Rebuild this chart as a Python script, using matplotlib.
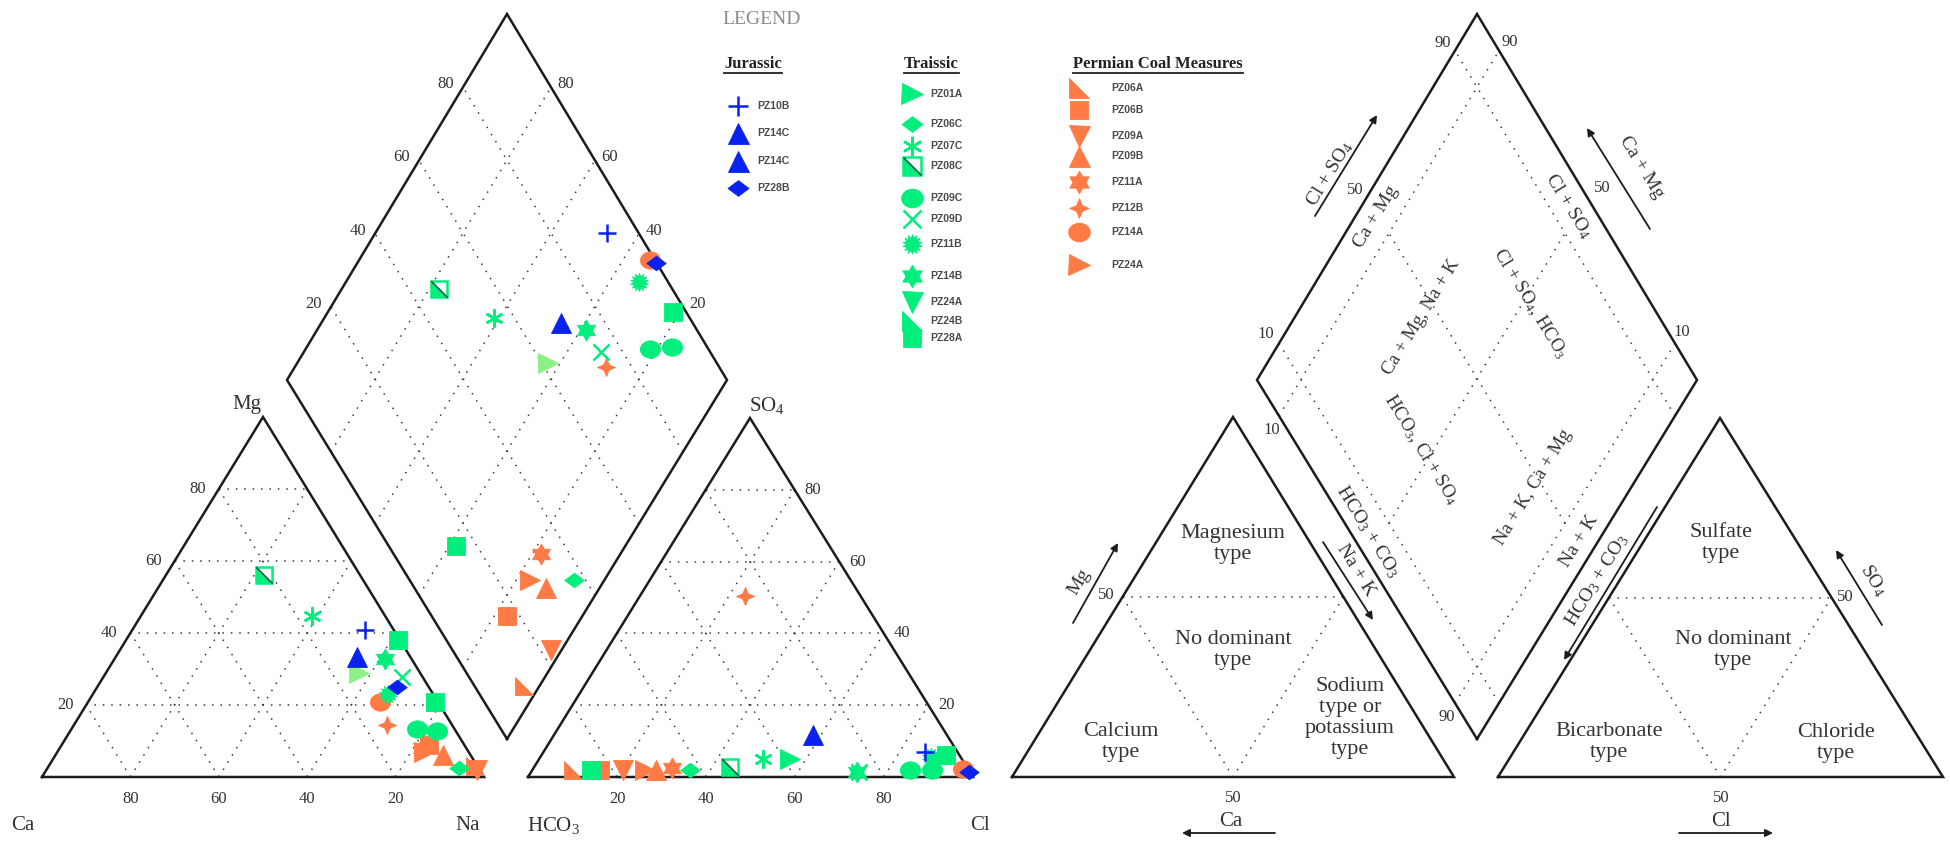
import numpy as np
import matplotlib
matplotlib.use("Agg")
import matplotlib.pyplot as plt
from matplotlib.path import Path
from matplotlib.transforms import Affine2D

SERIF = "Liberation Serif"
SANS = "Liberation Sans"
plt.rcParams["mathtext.fontset"] = "custom"
plt.rcParams["mathtext.rm"] = SERIF
plt.rcParams["mathtext.it"] = SERIF + ":italic"
plt.rcParams["mathtext.bf"] = SERIF + ":bold"

# ------------------------------------------------------------------ samples
# ionic composition in % of meq/L
sample_ids = ["PZ06A", "PZ06B", "PZ09A", "PZ09B", "PZ11A", "PZ12B", "PZ14A", "PZ24A",
              "PZ01A", "PZ06C", "PZ07C", "PZ08C", "PZ09C", "PZ09C-b", "PZ09D", "PZ11B",
              "PZ14B", "PZ28A", "PZ28A-b",
              "PZ10B", "PZ14C", "PZ28B"]
sample_unit = (["Permian Coal Measures"] * 8 + ["Traissic"] * 11 + ["Jurassic"] * 3)
sample_symbol = ["rtri", "square", "tri_down", "tri_up", "hexagram", "fourstar", "circle", "tri_right",
                 "tri_right", "diamond", "asterisk", "halfsq", "circle", "circle", "cross", "burst",
                 "hexagram", "square", "square",
                 "plus", "tri_up", "diamond"]
# cations
mg_pct = [3.0, 9.0, 2.0, 6.0, 8.0, 14.4, 20.7, 7.0,
          29.0, 2.6, 44.7, 56.1, 13.2, 12.8, 27.7, 23.0,
          32.7, 38.0, 20.7,
          40.8, 33.2, 24.9]
na_k_pct = [96.5, 83.0, 97.5, 87.8, 82.0, 70.8, 66.2, 83.0,
            57.2, 93.0, 38.8, 22.2, 78.3, 83.0, 67.7, 66.7,
            61.3, 61.5, 78.5,
            52.6, 54.7, 67.8]
# anions
so4_pct = [2.0, 2.0, 2.0, 2.0, 2.5, 50.3, 2.3, 2.0,
           5.1, 1.9, 5.1, 2.8, 1.9, 1.9, 1.5, 5.6,
           1.4, 1.9, 6.1,
           7.0, 11.7, 1.4]
cl_pct = [9.2, 15.2, 20.3, 27.7, 31.0, 23.7, 96.6, 25.3,
          56.3, 35.4, 50.3, 44.0, 84.8, 89.9, 73.6, 87.7,
          73.2, 13.3, 90.8,
          85.7, 58.2, 98.4]

# legend contents
legend_units = ["Jurassic", "Traissic", "Permian Coal Measures"]
legend_items = {
    "Jurassic": [("PZ10B", "plus"), ("PZ14C", "tri_up"), ("PZ14C", "tri_up"), ("PZ28B", "diamond")],
    "Traissic": [("PZ01A", "tri_right"), ("PZ06C", "diamond"), ("PZ07C", "asterisk"),
                 ("PZ08C", "halfsq"), ("PZ09C", "circle"), ("PZ09D", "cross"), ("PZ11B", "burst"),
                 ("PZ14B", "hexagram"), ("PZ24A", "tri_down"), ("PZ24B", "rtri"), ("PZ28A", "square")],
    "Permian Coal Measures": [("PZ06A", "rtri"), ("PZ06B", "square"), ("PZ09A", "tri_down"),
                              ("PZ09B", "tri_up"), ("PZ11A", "hexagram"), ("PZ12B", "fourstar"),
                              ("PZ14A", "circle"), ("PZ24A", "tri_right")],
}

GREEN = "#00ee7c"
PALE_GREEN = "#8cef88"
BLUE = "#0a22f0"
ORANGE = "#ff7a45"
INK = "#1c1c1c"
TXT = "#333333"
DOT = "#3c3c3c"
unit_colour = {"Permian Coal Measures": ORANGE, "Traissic": GREEN, "Jurassic": BLUE}
pale_in_cation_and_diamond = {"PZ01A": PALE_GREEN}

# ------------------------------------------------------------------ canvas
fig = plt.figure(figsize=(19.5, 8.43), dpi=100)
ax = fig.add_axes([0, 0, 1, 1])
ax.set_xlim(0, 1950)
ax.set_ylim(843, 0)
ax.axis("off")

# frame geometry in pixel space
CAT = {"L": (42, 777), "R": (484, 777), "T": (263, 417)}
AN = {"L": (528, 777), "R": (973, 777), "T": (750, 418)}
DIA = {"B": (507, 739), "L": (287, 380), "R": (727, 380), "T": (507, 14)}
SHIFT = 970  # the explanatory copy sits to the right


def shifted(g, dx):
    return {k: (v[0] + dx, v[1]) for k, v in g.items()}


def tri_xy(g, fr, ft):
    (lx, ly), (rx, ry), (tx, ty) = g["L"], g["R"], g["T"]
    return (lx + fr * (rx - lx) + ft * (tx - lx), ly + fr * (ry - ly) + ft * (ty - ly))


def dia_xy(g, u, v):
    # u = (Ca+Mg) fraction, v = (Cl+SO4) fraction
    B, L, R, T = (np.array(g[k], float) for k in ("B", "L", "R", "T"))
    p = (1 - u) * (1 - v) * B + u * (1 - v) * L + (1 - u) * v * R + u * v * T
    return p[0], p[1]


def dotted(p, q):
    ax.plot([p[0], q[0]], [p[1], q[1]], color=DOT, lw=1.1, ls=(0, (1, 4.5)), zorder=1)


def outline(pts):
    xs = [p[0] for p in pts] + [pts[0][0]]
    ys = [p[1] for p in pts] + [pts[0][1]]
    ax.plot(xs, ys, color=INK, lw=1.8, solid_joinstyle="miter", zorder=2)


def draw_triangle(g, grid=True):
    outline([g["L"], g["R"], g["T"]])
    if grid:
        for k in (0.2, 0.4, 0.6, 0.8):
            dotted(tri_xy(g, 0, k), tri_xy(g, 1 - k, k))
            dotted(tri_xy(g, k, 0), tri_xy(g, k, 1 - k))
            dotted(tri_xy(g, 1 - k, 0), tri_xy(g, 0, 1 - k))


def draw_diamond(g, grid=True):
    outline([g["B"], g["L"], g["T"], g["R"]])
    if grid:
        for k in (0.2, 0.4, 0.6, 0.8):
            dotted(dia_xy(g, k, 0), dia_xy(g, k, 1))
            dotted(dia_xy(g, 0, k), dia_xy(g, 1, k))


def label(x, y, s, size=12, rot=0, **kw):
    kw.setdefault("family", SERIF)
    kw.setdefault("color", TXT)
    ax.text(x, y, s, fontsize=size, rotation=rot, rotation_mode="anchor",
            ha=kw.pop("ha", "center"), va=kw.pop("va", "center"), zorder=6, **kw)


def arrow(p, q):
    ax.annotate("", xy=q, xytext=p,
                arrowprops=dict(arrowstyle="-|>", lw=1.3, color=INK, mutation_scale=11,
                                shrinkA=0, shrinkB=0), zorder=6)


# ------------------------------------------------------------------ marker shapes
RTRI = Path([(-1, 1), (-1, -1), (1, -1), (-1, 1)],
            [Path.MOVETO, Path.LINETO, Path.LINETO, Path.CLOSEPOLY])
DIAG = Path([(-1, 1), (1, -1)], [Path.MOVETO, Path.LINETO])
ELLIPSE = Path.unit_circle().transformed(Affine2D().scale(1.0, 0.86))
RHOMB = Path([(0, 0.75), (1, 0), (0, -0.75), (-1, 0), (0, 0.75)],
             [Path.MOVETO, Path.LINETO, Path.LINETO, Path.LINETO, Path.CLOSEPOLY])
SHAPES = {
    "rtri": (RTRI, 13, False),
    "square": ("s", 12.5, False),
    "tri_down": ("v", 14, False),
    "tri_up": ("^", 14, False),
    "tri_right": (">", 14, False),
    "hexagram": (Path.unit_regular_star(6, 0.58), 15, False),
    "fourstar": (Path.unit_regular_star(4, 0.42), 13, False),
    "circle": (ELLIPSE, 14.5, False),
    "diamond": (RHOMB, 14, False),
    "burst": (Path.unit_regular_star(14, 0.62), 13, False),
    "asterisk": ((6, 2, 0), 13, True),
    "cross": ("x", 12, True),
    "plus": ("+", 13, True),
}


def put(x, y, kind, colour, scale=1.0, z=5):
    if kind == "halfsq":
        ms = 12 * scale
        ax.plot(x, y, ls="none", marker="s", ms=ms, mfc="white", mec=colour, mew=1.8, zorder=z)
        ax.plot(x, y, ls="none", marker=RTRI, ms=ms, mfc=colour, mec=colour, mew=0.5, zorder=z)
        ax.plot(x, y, ls="none", marker=DIAG, ms=ms, mfc="none", mec="#1f5f45", mew=1.2, zorder=z)
        return
    mk, ms, is_line = SHAPES[kind]
    if is_line:
        ax.plot(x, y, ls="none", marker=mk, ms=ms * scale, mec=colour, mew=1.8, zorder=z)
    else:
        ax.plot(x, y, ls="none", marker=mk, ms=ms * scale, mfc=colour, mec=colour, mew=0.6, zorder=z)


# ------------------------------------------------------------------ Piper plot (data)
draw_triangle(CAT)
draw_triangle(AN)
draw_diamond(DIA)

for k in (20, 40, 60, 80):
    f = k / 100
    x, y = tri_xy(CAT, 0, f)
    label(x - 21, y, str(k))
    x, y = tri_xy(CAT, 1 - f, 0)
    label(x, 799, str(k))
    x, y = tri_xy(AN, 1 - f, f)
    label(x + 18, y, str(k))
    x, y = tri_xy(AN, f, 0)
    label(x, 799, str(k))
    x, y = dia_xy(DIA, 1, f)
    label(x - 17, y - 3, str(k))
    x, y = dia_xy(DIA, f, 1)
    label(x + 15, y - 3, str(k))

label(23, 825, "Ca", 15)
label(468, 825, "Na", 15)
label(247, 405, "Mg", 15)
label(553, 825, "HCO$_3$", 15)
label(980, 825, "Cl", 15)
label(767, 405, "SO$_4$", 15)

for i, sid in enumerate(sample_ids):
    col = unit_colour[sample_unit[i]]
    col_cd = pale_in_cation_and_diamond.get(sid, col)
    kind = sample_symbol[i]
    mg, na = mg_pct[i] / 100, na_k_pct[i] / 100
    so4, cl = so4_pct[i] / 100, cl_pct[i] / 100
    put(*tri_xy(CAT, na, mg), kind, col_cd)
    put(*tri_xy(AN, cl, so4), kind, col)
    put(*dia_xy(DIA, 1 - na, cl + so4), kind, col_cd)

# ------------------------------------------------------------------ legend
label(762, 19, "LEGEND", 14, color="#8a8a8a")
legend_x = {"Jurassic": (724, 738, 757), "Traissic": (904, 912, 930),
            "Permian Coal Measures": (1073, 1079, 1111)}
legend_rows = {"Jurassic": [106, 133, 161, 188],
               "Traissic": [94, 124, 146, 166, 198, 219, 244, 276, 302, 321, 338],
               "Permian Coal Measures": [88, 110, 136, 156, 182, 208, 232, 265]}
titles = []
for unit in legend_units:
    tx, mx, lx = legend_x[unit]
    t = ax.text(tx, 64, unit, fontsize=12, family=SERIF, weight="bold", color="#222222",
                ha="left", va="center", zorder=6)
    titles.append(t)
    for (name, kind), ry in zip(legend_items[unit], legend_rows[unit]):
        put(mx, ry, kind, unit_colour[unit], scale=1.08)
        ax.text(lx, ry, name, fontsize=7.5, family=SANS, weight="bold", color="#4a4a4a",
                ha="left", va="center", zorder=6)

fig.canvas.draw()
renderer = fig.canvas.get_renderer()
for t in titles:
    bb = t.get_window_extent(renderer)
    y_line = 843 - bb.y0 + 1
    ax.plot([bb.x0, bb.x1], [y_line, y_line], color="#222222", lw=1.3, zorder=6)

# ------------------------------------------------------------------ explanatory diagram
CAT2 = shifted(CAT, SHIFT)
AN2 = shifted(AN, SHIFT)
DIA2 = shifted(DIA, SHIFT)
draw_triangle(CAT2, grid=False)
draw_triangle(AN2, grid=False)
draw_diamond(DIA2, grid=False)

for g in (CAT2, AN2):
    dotted(tri_xy(g, 0, 0.5), tri_xy(g, 0.5, 0.5))
    dotted(tri_xy(g, 0, 0.5), tri_xy(g, 0.5, 0))
    dotted(tri_xy(g, 0.5, 0.5), tri_xy(g, 0.5, 0))
for k in (0.1, 0.9):
    dotted(dia_xy(DIA2, k, 0), dia_xy(DIA2, k, 1))
    dotted(dia_xy(DIA2, 0, k), dia_xy(DIA2, 1, k))
dotted(dia_xy(DIA2, 0.5, 0.1), dia_xy(DIA2, 0.5, 0.9))
dotted(dia_xy(DIA2, 0.1, 0.5), dia_xy(DIA2, 0.9, 0.5))

ROT = 58.5
region_texts = [
    ("Magnesium\ntype", 1233, 544), ("No dominant\ntype", 1233, 650),
    ("Calcium\ntype", 1121, 742), ("Sodium\ntype or\npotassium\ntype", 1350, 718),
    ("Sulfate\ntype", 1721, 543), ("No dominant\ntype", 1733, 650),
    ("Bicarbonate\ntype", 1609, 742), ("Chloride\ntype", 1836, 743),
]
for s, x, y in region_texts:
    label(x, y, s, 16, linespacing=1.15, multialignment="center")

# tick values
for s, x, y in [("50", 1106, 595), ("50", 1845, 597), ("50", 1233, 798), ("50", 1721, 798),
                ("90", 1443, 43), ("90", 1510, 42), ("50", 1355, 190), ("50", 1602, 188),
                ("10", 1266, 334), ("10", 1682, 332), ("10", 1272, 430), ("90", 1447, 717)]:
    label(x, y, s, 12)

# axis names with direction arrows
label(1231, 822, "Ca", 15)
arrow((1275, 833), (1182, 833))
label(1721, 822, "Cl", 15)
arrow((1679, 833), (1773, 833))
label(1079, 582, "Mg", 14, rot=ROT)
arrow((1073, 623), (1118, 543))
label(1873, 580, "SO$_4$", 14, rot=-ROT)
arrow((1882, 625), (1836, 550))
label(1330, 174, "Cl + SO$_4$", 14, rot=ROT)
arrow((1315, 216), (1377, 115))
label(1641, 167, "Ca + Mg", 14, rot=-ROT)
arrow((1650, 229), (1587, 128))
label(1356, 570, "Na + K", 14, rot=-ROT)
arrow((1323, 542), (1373, 620))
label(1597, 580, "HCO$_3$ + CO$_3$", 14, rot=ROT)
arrow((1657, 507), (1564, 660))

# labels inside the diamond
label(1376, 217, "Ca + Mg", 14, rot=ROT)
label(1568, 206, "Cl + SO$_4$", 14, rot=-ROT)
label(1368, 532, "HCO$_3$ + CO$_3$", 14, rot=-ROT)
label(1579, 541, "Na + K", 14, rot=ROT)
label(1421, 317, "Ca + Mg, Na + K", 13.5, rot=ROT)
label(1530, 304, "Cl + SO$_4$, HCO$_3$", 13.5, rot=-ROT)
label(1421, 450, "HCO$_3$, Cl + SO$_4$", 13.5, rot=-ROT)
label(1533, 487, "Na + K, Ca + Mg", 13.5, rot=ROT)

fig.savefig("out.png", dpi=100)
